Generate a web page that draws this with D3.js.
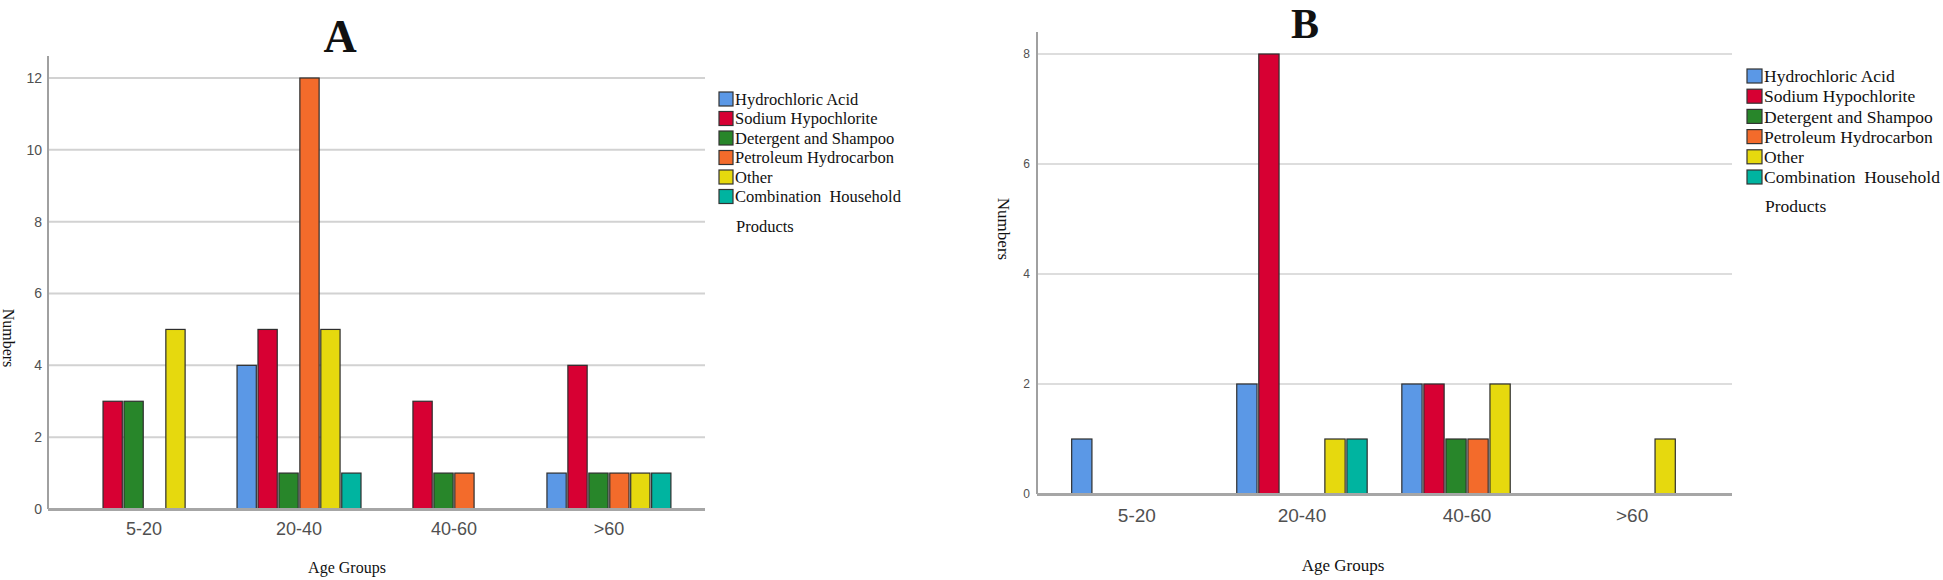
<!DOCTYPE html>
<html>
<head>
<meta charset="utf-8">
<script src="https://cdn.jsdelivr.net/npm/d3@7"></script>
<style>
  body { margin: 0; background: #fff; }
  text { white-space: pre; }
</style>
</head>
<body>
<script>
'use strict';

let ageGroups = ['5-20', '20-40', '40-60', '>60'];
let products = ['Hydrochloric Acid', 'Sodium Hypochlorite', 'Detergent and Shampoo',
    'Petroleum Hydrocarbon', 'Other', 'Combination  Household'];
let productColors = ['#5b98e6', '#d70033', '#28862a', '#f36b2b', '#e6d90e', '#00b4a0'];

// counts per product, one value per age group
let valuesA = [
    [0, 4, 0, 1],
    [3, 5, 3, 4],
    [3, 1, 1, 1],
    [0, 12, 1, 1],
    [5, 5, 0, 1],
    [0, 1, 0, 1]
];
let valuesB = [
    [1, 2, 2, 0],
    [0, 8, 2, 0],
    [0, 0, 1, 0],
    [0, 0, 1, 0],
    [0, 1, 2, 1],
    [0, 1, 0, 0]
];
let ticksA = [0, 2, 4, 6, 8, 10, 12];
let ticksB = [0, 2, 4, 6, 8];

let w = 1943, h = 580;

let svg = d3.select('body')
    .append('svg')
    .attr('width', w)
    .attr('height', h);

function drawPanel(p) {
    let g = svg.append('g');

    let x0 = d3.scaleBand()
        .domain(ageGroups)
        .range([p.left, p.right])
        .paddingInner(p.padIn)
        .paddingOuter(p.padOut);

    let x1 = d3.scaleBand()
        .domain(products)
        .range([0, x0.bandwidth()])
        .paddingInner(0.08);

    let y = d3.scaleLinear()
        .domain([0, p.yMax])
        .range([p.bottom, p.top]);

    // gridlines
    g.selectAll('line.grid')
        .data(p.ticks.filter(d => d > 0))
        .enter()
        .append('line')
        .attr('class', 'grid')
        .attr('x1', p.left)
        .attr('x2', p.right)
        .attr('y1', d => y(d))
        .attr('y2', d => y(d))
        .attr('stroke', '#d2d2d2')
        .attr('stroke-width', p.gridW);

    // y tick labels
    g.selectAll('text.ytick')
        .data(p.ticks)
        .enter()
        .append('text')
        .attr('class', 'ytick')
        .text(d => d)
        .attr('x', p.left - p.tickGap)
        .attr('y', d => y(d))
        .attr('dy', '0.35em')
        .attr('text-anchor', 'end')
        .attr('font-family', 'Liberation Sans, Arial, sans-serif')
        .attr('font-size', p.tickSize + 'px')
        .attr('fill', '#505050');

    // y axis line
    g.append('line')
        .attr('x1', p.left).attr('x2', p.left)
        .attr('y1', p.axisTop).attr('y2', p.bottom)
        .attr('stroke', '#a0a0a0')
        .attr('stroke-width', 2);

    // bars
    let groups = g.selectAll('g.group')
        .data(ageGroups)
        .enter()
        .append('g')
        .attr('class', 'group')
        .attr('transform', d => 'translate(' + x0(d) + ',0)');

    groups.selectAll('rect')
        .data((d, i) => products.map((k, j) => ({ key: k, color: productColors[j], value: p.values[j][i] })))
        .enter()
        .filter(d => d.value > 0)
        .append('rect')
        .attr('x', d => x1(d.key))
        .attr('y', d => y(d.value))
        .attr('width', x1.bandwidth())
        .attr('height', d => p.bottom - y(d.value))
        .attr('fill', d => d.color)
        .attr('stroke', '#2e2e2e')
        .attr('stroke-width', 1.2);

    // x axis line
    g.append('line')
        .attr('x1', p.left).attr('x2', p.right)
        .attr('y1', p.bottom + 0.5).attr('y2', p.bottom + 0.5)
        .attr('stroke', '#a6a6a6')
        .attr('stroke-width', 3);

    // x labels
    g.selectAll('text.xlab')
        .data(ageGroups)
        .enter()
        .append('text')
        .attr('class', 'xlab')
        .text(d => d)
        .attr('x', d => x0(d) + x0.bandwidth() / 2)
        .attr('y', p.xLabY)
        .attr('text-anchor', 'middle')
        .attr('font-family', 'Liberation Sans, Arial, sans-serif')
        .attr('font-size', p.xLabSize + 'px')
        .attr('fill', '#505050');

    // titles
    g.append('text')
        .text(p.title)
        .attr('x', p.titleX)
        .attr('y', p.titleY)
        .attr('text-anchor', 'middle')
        .attr('font-family', 'Liberation Serif, Times New Roman, serif')
        .attr('font-weight', 'bold')
        .attr('font-size', p.titleSize + 'px')
        .attr('fill', '#111');

    g.append('text')
        .text('Age Groups')
        .attr('x', p.xTitleX)
        .attr('y', p.xTitleY)
        .attr('text-anchor', 'middle')
        .attr('font-family', 'Liberation Serif, Times New Roman, serif')
        .attr('font-size', p.serifSize + 'px')
        .attr('fill', '#111');

    g.append('text')
        .text('Numbers')
        .attr('transform', 'translate(' + p.yTitleX + ',' + p.yTitleY + ') rotate(90)')
        .attr('text-anchor', 'middle')
        .attr('font-family', 'Liberation Serif, Times New Roman, serif')
        .attr('font-size', p.serifSize + 'px')
        .attr('fill', '#111');

    // legend
    let leg = g.selectAll('g.leg')
        .data(products)
        .enter()
        .append('g')
        .attr('class', 'leg')
        .attr('transform', (d, i) => 'translate(' + p.legX + ',' + (p.legY + i * p.legStep) + ')');

    leg.append('rect')
        .attr('x', 0)
        .attr('y', -p.sq / 2)
        .attr('width', p.sqW)
        .attr('height', p.sq)
        .attr('fill', (d, i) => productColors[i])
        .attr('stroke', '#333')
        .attr('stroke-width', 1.2);

    leg.append('text')
        .text(d => d)
        .attr('x', p.sqW + 2)
        .attr('y', 0)
        .attr('dy', '0.35em')
        .attr('font-family', 'Liberation Serif, Times New Roman, serif')
        .attr('font-size', p.legSize + 'px')
        .attr('fill', '#111');

    g.append('text')
        .text('Products')
        .attr('x', p.legX + p.sqW + 3)
        .attr('y', p.productsY)
        .attr('dy', '0.35em')
        .attr('font-family', 'Liberation Serif, Times New Roman, serif')
        .attr('font-size', p.legSize + 'px')
        .attr('fill', '#111');
}

drawPanel({
    title: 'A', titleX: 340, titleY: 52, titleSize: 46,
    values: valuesA, ticks: ticksA, yMax: 12,
    left: 48, right: 705, top: 78, bottom: 509, axisTop: 56,
    padIn: 0.2, padOut: 0.22,
    gridW: 2, tickSize: 14, tickGap: 6,
    xLabY: 535, xLabSize: 18,
    xTitleX: 347, xTitleY: 573, yTitleX: 3, yTitleY: 338,
    serifSize: 16, legSize: 16.5,
    legX: 719, legY: 99, legStep: 19.5, sq: 14, sqW: 14, productsY: 226
});

drawPanel({
    title: 'B', titleX: 1305, titleY: 38, titleSize: 42,
    values: valuesB, ticks: ticksB, yMax: 8,
    left: 1037, right: 1732, top: 54, bottom: 494, axisTop: 32,
    padIn: 0.21, padOut: 0.21,
    gridW: 1.6, tickSize: 12, tickGap: 7,
    xLabY: 522, xLabSize: 19,
    xTitleX: 1343, xTitleY: 571, yTitleX: 998, yTitleY: 229,
    serifSize: 17, legSize: 17.5,
    legX: 1747, legY: 76, legStep: 20.2, sq: 14, sqW: 15, productsY: 206
});
</script>
</body>
</html>
